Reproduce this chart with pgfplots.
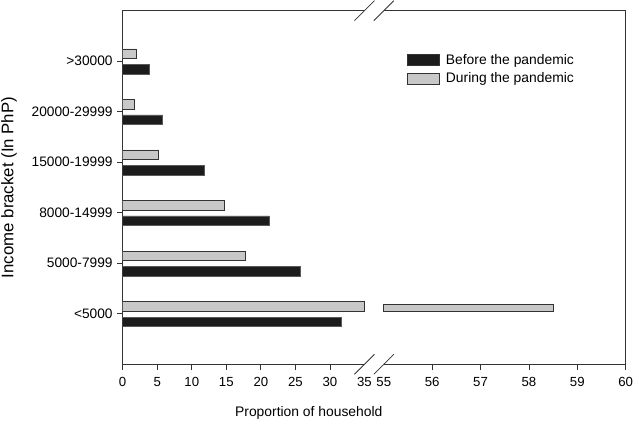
\documentclass[border=0pt]{standalone}
\usepackage{pgfplots}
\usepackage{pgfplotstable}
\usepackage{fontspec}
\setmainfont{Liberation Sans}
\pgfplotsset{compat=1.18}

\definecolor{barblack}{HTML}{1C1C1C}
\definecolor{bargray}{HTML}{C8C8C8}
\definecolor{axisgray}{HTML}{333333}

% broken x axis: 0-35 as is, 55-60 mapped to 37.8 + 7*(x-55)
\pgfplotstableread{
y before during
0 31.7 58.5
1 25.7 17.8
2 21.2 14.7
3 11.8 5.2
4 5.8 1.7
5 3.8 2.0
}\income

\begin{document}
\begin{tikzpicture}
\begin{axis}[
  name=ax,
  scale only axis,
  width=377.25pt, height=265.2pt,
  xmin=0, xmax=72.8,
  ymin=-1, ymax=6,
  xtick={0,5,10,15,20,25,30,44.8,51.8,58.8,65.8,72.8},
  xticklabels={0,5,10,15,20,25,30,56,57,58,59,60},
  extra x ticks={35,37.8},
  extra x tick labels={35,55},
  extra x tick style={major tick length=0pt, xticklabel style={yshift=-4pt}},
  ytick={0,...,5},
  yticklabels={<5000,5000-7999,8000-14999,15000-19999,20000-29999,>30000},
  tick align=outside,
  xtick pos=bottom, ytick pos=left,
  major tick length=4pt,
  tick style={axisgray, line width=0.6pt},
  axis line style={axisgray, line width=0.8pt},
  xticklabel style={font=\fontsize{9.9}{11}\selectfont, yshift=-2.5pt},
  yticklabel style={font=\fontsize{10.3}{12}\selectfont},
  xlabel={Proportion of household},
  ylabel={Income bracket (In PhP)},
  xlabel style={font=\fontsize{10.4}{12}\selectfont, at={(axis description cs:0.370,-0.137)}, anchor=center},
  ylabel style={font=\fontsize{12.6}{14}\selectfont, at={(axis description cs:-0.226,0.5)}, anchor=center},
  legend style={at={(axis description cs:0.556,0.893)}, anchor=north west,
    draw=none, fill=none, font=\fontsize{10.4}{12}\selectfont,
    row sep=1pt, legend cell align=left, nodes={inner xsep=5pt}},
]
\addlegendimage{legend image code/.code={\draw[draw=axisgray, fill=barblack, line width=0.5pt] (0pt,-4pt) rectangle (24pt,4pt);}}
\addlegendentry{Before the pandemic}
\addlegendimage{legend image code/.code={\draw[draw=axisgray, fill=bargray, line width=0.5pt] (0pt,-4pt) rectangle (24pt,4pt);}}
\addlegendentry{During the pandemic}

\addplot[xbar, bar width=7.1pt, bar shift=-6pt, draw=gray!70!black, fill=barblack, line width=0.4pt, forget plot]
  table[x=before, y=y] {\income};
\addplot[xbar, bar width=7.1pt, bar shift=5.6pt, draw=axisgray, fill=bargray, line width=0.6pt, forget plot]
  table[x expr={min(\thisrow{during},35)}, y=y] {\income};
% part of the <5000 bar beyond the break (55 to 58.5)
\addplot[draw=axisgray, fill=bargray, line width=0.6pt, forget plot]
  coordinates {(37.8,0.040) (62.3,0.040) (62.3,0.181) (37.8,0.181)} -- cycle;

\coordinate (B1) at (axis cs:35,-1);
\coordinate (B2) at (axis cs:37.8,-1);
\coordinate (T1) at (axis cs:35,6);
\coordinate (T2) at (axis cs:37.8,6);
\coordinate (SW) at (rel axis cs:0,0);
\coordinate (NE) at (rel axis cs:1,1);
\end{axis}
\fill[white] ([yshift=-1.5pt]B1) rectangle ([yshift=1.5pt]B2);
\fill[white] ([yshift=-1.5pt]T1) rectangle ([yshift=1.5pt]T2);
\foreach \p in {B1,B2,T1,T2}
  \draw[axisgray, line width=0.6pt] ([shift={(-7.5pt,-7.5pt)}]\p) -- ([shift={(7.5pt,7.5pt)}]\p);
\pgfresetboundingbox
\path ([shift={(-92pt,-44.8pt)}]SW) rectangle ([shift={(5.5pt,8pt)}]NE);
\end{tikzpicture}
\end{document}
